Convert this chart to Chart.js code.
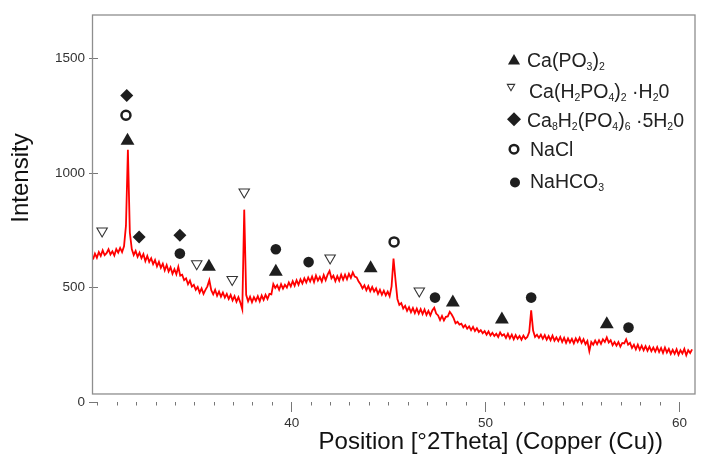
<!DOCTYPE html>
<html>
<head>
<meta charset="utf-8" />
<title>XRD pattern</title>
<style>
    html, body { margin: 0; padding: 0; background: #fff; }
    #contenedorXrd { width: 716px; height: 465px; }
</style>
</head>
<body>
<div id="contenedorXrd">
    <canvas id="canvasXrd" width="716" height="465"></canvas>
</div>
<script src="https://cdn.jsdelivr.net/npm/chart.js@4.4.1/dist/chart.umd.min.js"></script>
<script type="text/javascript">

    // scan: first angle, step (deg 2theta) and the intensities
    var scanStart = 29.75;
    var scanStep = 0.1;
    var intensity = [
        622, 648, 630, 655, 638, 662, 641, 650, 667, 644,   // 29.75
        658, 640, 668, 652, 673, 655, 680, 770, 1102, 740,  // 30.75
        668, 642, 660, 634, 652, 628, 646, 615, 638, 612,   // 31.75
        628, 602, 620, 592, 612, 586, 604, 575, 598, 570,   // 32.75
        588, 560, 580, 558, 590, 552, 556, 532, 540, 514,   // 33.75
        530, 504, 512, 490, 502, 478, 496, 472, 490, 505,   // 34.75
        532, 488, 470, 490, 464, 482, 460, 478, 456, 472,   // 35.75
        450, 468, 444, 462, 438, 458, 434, 405, 840, 468,   // 36.75
        440, 460, 436, 458, 442, 462, 440, 465, 446, 468,   // 37.75
        450, 472, 470, 515, 498, 510, 490, 514, 495, 512,   // 38.75
        500, 522, 505, 528, 508, 532, 512, 536, 518, 540,   // 39.75
        522, 544, 526, 548, 524, 552, 530, 546, 526, 554,   // 40.75
        532, 556, 572, 540, 552, 528, 550, 530, 556, 534,   // 41.75
        556, 536, 560, 542, 566, 548, 544, 526, 514, 496,   // 42.75
        510, 488, 506, 484, 502, 482, 496, 472, 490, 468,   // 43.75
        486, 466, 482, 462, 505, 626, 535, 450, 424, 432,   // 44.75
        408, 420, 398, 414, 392, 410, 388, 408, 386, 406,   // 45.75
        384, 404, 380, 398, 378, 400, 412, 386, 378, 358,   // 46.75
        376, 356, 372, 374, 394, 382, 366, 344, 350, 338,   // 47.75
        342, 326, 336, 320, 330, 314, 328, 310, 322, 306,   // 48.75
        314, 300, 310, 294, 308, 290, 302, 288, 298, 284,   // 49.75
        304, 290, 296, 280, 298, 278, 294, 274, 292, 276,   // 50.75
        288, 272, 290, 276, 284, 305, 400, 312, 284, 294,   // 51.75
        280, 294, 276, 292, 272, 288, 270, 290, 268, 282,   // 52.75
        266, 284, 262, 280, 258, 278, 260, 276, 256, 278,   // 53.75
        262, 280, 258, 274, 252, 266, 222, 262, 250, 268,   // 54.75
        252, 270, 254, 274, 262, 282, 260, 270, 248, 262,   // 55.75
        246, 262, 242, 258, 256, 274, 250, 258, 236, 250,   // 56.75
        230, 250, 228, 246, 226, 244, 224, 242, 222, 238,   // 57.75
        220, 240, 218, 236, 214, 238, 216, 232, 210, 228,   // 58.75
        210, 230, 206, 226, 212, 232, 204, 226, 214, 230    // 59.75
    ];

    // phase markers (x = 2theta, y = intensity where the symbol sits)
    var caPO3X = [31.53, 35.73, 39.18, 44.07, 48.31, 50.84, 56.25];
    var caPO3Y = [1141, 591, 569, 584, 435, 360, 340];
    var monoX = [30.22, 35.10, 36.93, 37.55, 41.98, 46.58];
    var monoY = [747, 604, 535, 917, 629, 485];
    var octaX = [31.49, 32.13, 34.23];
    var octaY = [1339, 720, 728];
    var naclX = [31.45, 45.28];
    var naclY = [1252, 699];
    var bicarbX = [34.23, 39.18, 40.87, 47.39, 52.35, 57.37];
    var bicarbY = [648, 667, 611, 456, 456, 325];

    var yTicks = [0, 500, 1000, 1500];
    var xTickLabels = [40, 50, 60];
    var xTitle = 'Position [°2Theta] (Copper (Cu))';
    var yTitle = 'Intensity';

    // legend labels, [text, isSubscript]
    var legendLabels = [
        [['Ca(PO'], ['3', 1], [')'], ['2', 1]],
        [['Ca(H'], ['2', 1], ['PO'], ['4', 1], [')'], ['2', 1], [' ·H'], ['2', 1], ['0']],
        [['Ca'], ['8', 1], ['H'], ['2', 1], ['(PO'], ['4', 1], [')'], ['6', 1], [' ·5H'], ['2', 1], ['0']],
        [['NaCl']],
        [['NaHCO'], ['3', 1]]
    ];

    var fontFamily = '"Liberation Sans", Arial, Helvetica, sans-serif';
    var ink = '#1e1e1e';

    var phaseStyles = [
        { pointStyle: 'triangle', rotation: 0, radius: 8, legendRadius: 7, fill: ink, stroke: ink, borderWidth: 0 },
        { pointStyle: 'triangle', rotation: 180, radius: 6, legendRadius: 4.2, fill: '#fff', stroke: '#333', borderWidth: 1.1 },
        { pointStyle: 'rectRot', rotation: 0, radius: 6.5, legendRadius: 7, fill: ink, stroke: ink, borderWidth: 0 },
        { pointStyle: 'circle', rotation: 0, radius: 4.5, legendRadius: 4.3, fill: '#fff', stroke: ink, borderWidth: 2.5 },
        { pointStyle: 'circle', rotation: 0, radius: 5.3, legendRadius: 5, fill: ink, stroke: ink, borderWidth: 0 }
    ];

    function toPoints(xs, ys) {
        return xs.map(function (x, i) { return { x: x, y: ys[i] }; });
    }

    var tracePoints = intensity.map(function (v, i) {
        return { x: +(scanStart + i * scanStep).toFixed(2), y: v };
    });

    var markerSets = [
        toPoints(caPO3X, caPO3Y),
        toPoints(monoX, monoY),
        toPoints(octaX, octaY),
        toPoints(naclX, naclY),
        toPoints(bicarbX, bicarbY)
    ];

    var datasets = markerSets.map(function (pts, i) {
        var s = phaseStyles[i];
        return {
            data: pts,
            pointStyle: s.pointStyle,
            rotation: s.rotation,
            pointRadius: s.radius,
            pointBackgroundColor: s.fill,
            pointBorderColor: s.stroke,
            pointBorderWidth: s.borderWidth,
            showLine: false,
            order: 0
        };
    });
    datasets.push({
        data: tracePoints,
        showLine: true,
        borderColor: 'rgb(255, 0, 0)',
        borderWidth: 1.8,
        pointRadius: 0,
        tension: 0,
        order: 1
    });

    // frame slightly inside the axes, titles and legend with subscripts
    var frameBottomValue = 35;
    var legendMarkerX = [514, 511, 514, 514, 515];
    var legendMarkerY = [61, 86.5, 119.2, 149.2, 182.5];
    var legendTextX = [527, 529, 527, 530, 530];
    var legendBaseline = [67, 98, 127, 156, 188];

    var xrdDecor = {
        id: 'xrdDecor',
        beforeDatasetsDraw: function (chart) {
            var a = chart.chartArea, ctx = chart.ctx;
            var bottom = chart.scales.y.getPixelForValue(frameBottomValue);
            ctx.save();
            ctx.strokeStyle = '#8e8e8e';
            ctx.lineWidth = 1.3;
            ctx.strokeRect(a.left - 0.5, a.top, a.right - a.left + 0.5, bottom - a.top);
            ctx.restore();
        },
        afterDraw: function (chart) {
            var a = chart.chartArea, ctx = chart.ctx;
            ctx.save();
            ctx.fillStyle = '#111';
            ctx.font = '24px ' + fontFamily;
            ctx.textBaseline = 'alphabetic';
            ctx.textAlign = 'right';
            ctx.fillText(xTitle, a.right - 32, 449);
            ctx.save();
            ctx.translate(28, 178);
            ctx.rotate(-Math.PI / 2);
            ctx.textAlign = 'center';
            ctx.fillText(yTitle, 0, 0);
            ctx.restore();

            // legend
            ctx.textAlign = 'left';
            legendLabels.forEach(function (parts, i) {
                var s = phaseStyles[i];
                ctx.fillStyle = s.fill;
                ctx.strokeStyle = s.stroke;
                ctx.lineWidth = s.borderWidth;
                Chart.helpers.drawPoint(ctx, {
                    pointStyle: s.pointStyle,
                    rotation: s.rotation,
                    radius: s.legendRadius,
                    borderWidth: s.borderWidth
                }, legendMarkerX[i], legendMarkerY[i]);

                var x = legendTextX[i];
                ctx.fillStyle = '#222';
                parts.forEach(function (p) {
                    var sub = p[1] === 1;
                    ctx.font = (sub ? '10.5px ' : '19.5px ') + fontFamily;
                    ctx.fillText(p[0], x, legendBaseline[i] + (sub ? 3 : 0));
                    x += ctx.measureText(p[0]).width;
                });
            });
            ctx.restore();
        }
    };

    var config = {
        type: 'scatter',
        data: { datasets: datasets },
        options: {
            responsive: false,
            animation: false,
            layout: { padding: { left: 0, top: 15, right: 21, bottom: 0 } },
            plugins: {
                legend: { display: false },
                tooltip: { enabled: false }
            },
            scales: {
                x: {
                    type: 'linear',
                    min: 29.75,
                    max: 60.8,
                    afterFit: function (s) { s.height = 63; },
                    border: { display: false },
                    grid: {
                        drawOnChartArea: false,
                        drawTicks: true,
                        tickLength: 10,
                        tickColor: '#777',
                        tickWidth: 1,
                        tickBorderDash: function (c) {
                            return c.tick && xTickLabels.indexOf(c.tick.value) >= 0 ? [] : [3.5, 100];
                        }
                    },
                    ticks: {
                        stepSize: 1,
                        autoSkip: false,
                        maxRotation: 0,
                        includeBounds: false,
                        padding: 3,
                        color: '#333',
                        font: { family: fontFamily, size: 13.5 },
                        callback: function (v) { return xTickLabels.indexOf(v) >= 0 ? String(v) : ''; }
                    }
                },
                y: {
                    type: 'linear',
                    min: 0,
                    max: 1690,
                    afterFit: function (s) { s.width = 93; },
                    afterBuildTicks: function (s) {
                        s.ticks = yTicks.map(function (v) { return { value: v }; });
                    },
                    border: { display: false, dash: [5, 4000] },
                    grid: {
                        drawOnChartArea: true,
                        drawTicks: true,
                        tickLength: 4,
                        color: '#777',
                        tickColor: '#777',
                        lineWidth: 1
                    },
                    ticks: {
                        padding: 4,
                        color: '#333',
                        font: { family: fontFamily, size: 13.5 },
                        callback: function (v) { return String(v); }
                    }
                }
            }
        },
        plugins: [xrdDecor]
    };

    var chartXrd = new Chart(document.getElementById('canvasXrd').getContext('2d'), config);

</script>
</body>
</html>
